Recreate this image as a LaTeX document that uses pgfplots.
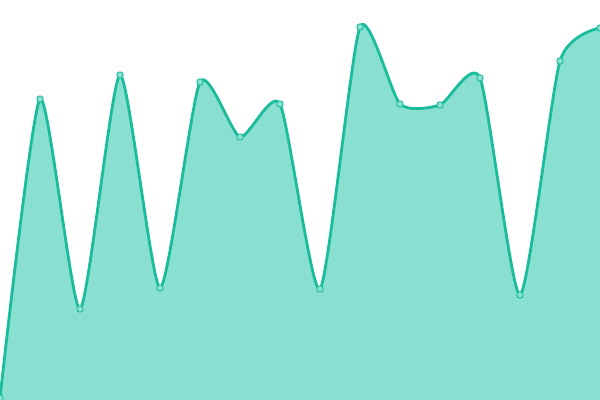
\documentclass[border=0pt]{standalone}
\usepackage{pgfplots}
\pgfplotsset{compat=1.18}
\definecolor{teal1}{RGB}{26,188,156}
\definecolor{tealfill}{RGB}{137,224,208}
\pgfplotstableread{
x y
0 2
40 301
80 91
120 325
160 112
200 318
240 263
280 296
320 111
360 373
400 296
440 295
480 322
520 105
560 339
600 372
}\data
\begin{document}
\begin{tikzpicture}
\path[use as bounding box] (0,0) rectangle (600bp,400bp);
\begin{axis}[
  at={(0,0)}, anchor=south west,
  scale only axis, width=600bp, height=400bp,
  xmin=0, xmax=600, ymin=0, ymax=400,
  hide axis, clip=true, clip marker paths=true,
]
\addplot[smooth, tension=0.37, draw=none, fill=tealfill, mark=none] table {\data} \closedcycle;
\addplot[smooth, tension=0.37, draw=teal1, line width=2.8bp,
  mark=*, mark size=3.2bp, mark options={fill=tealfill, draw=teal1, line width=0.9bp}] table {\data};
\end{axis}
\end{tikzpicture}
\end{document}
